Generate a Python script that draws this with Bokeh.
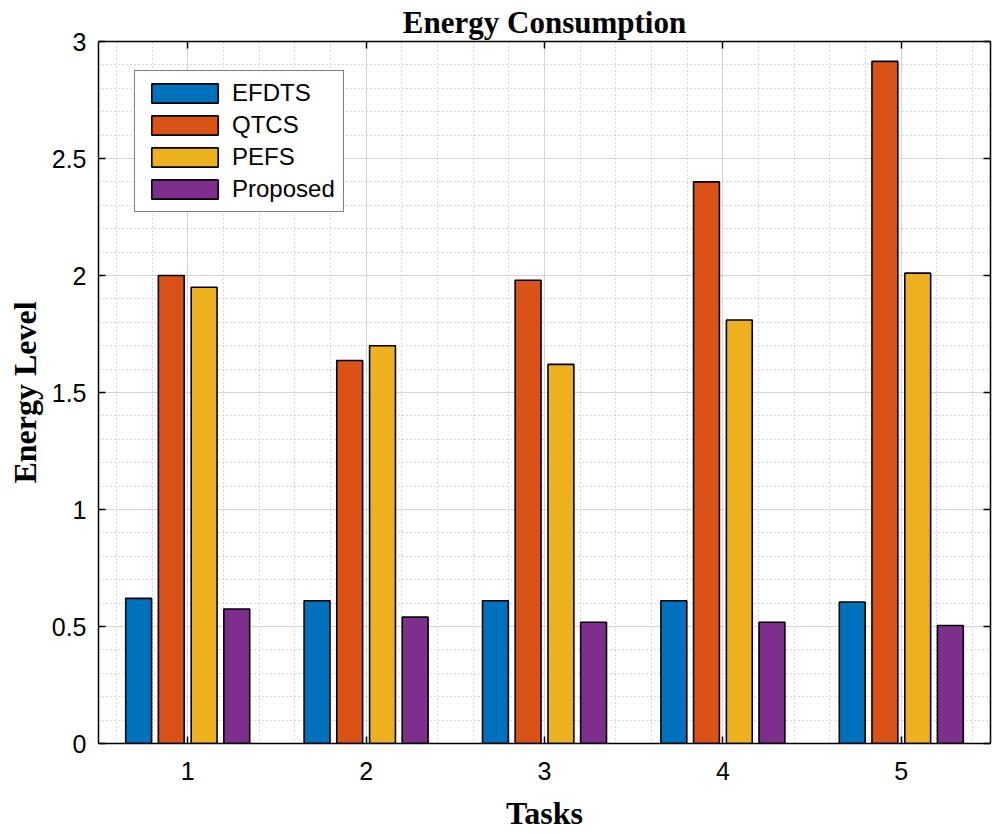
from bokeh.plotting import figure
from bokeh.models import (Range1d, FixedTicker, LinearAxis, Legend, LegendItem, ColumnDataSource)
from bokeh.transform import dodge
from bokeh.embed import file_html
from bokeh.resources import INLINE

# ---- data ----
tasks = [1, 2, 3, 4, 5]
efdts = [0.62, 0.61, 0.61, 0.61, 0.605]
qtcs = [2.00, 1.637, 1.98, 2.40, 2.915]
pefs = [1.95, 1.70, 1.62, 1.81, 2.01]
proposed = [0.575, 0.54, 0.518, 0.518, 0.504]
series_names = ["EFDTS", "QTCS", "PEFS", "Proposed"]
x_ticks = [1, 2, 3, 4, 5]
y_ticks = [0, 0.5, 1, 1.5, 2, 2.5, 3]

colors = ["#0072BD", "#D95319", "#EDB120", "#7E2F8E"]
offsets = [-0.275, -0.092, 0.092, 0.275]
bar_w = 0.145

src = ColumnDataSource(dict(task=tasks, EFDTS=efdts, QTCS=qtcs, PEFS=pefs, Proposed=proposed))

p = figure(frame_width=892, frame_height=702, output_backend="svg", toolbar_location=None,
           x_range=Range1d(0.5, 5.5), y_range=Range1d(0, 3),
           min_border_left=98, min_border_right=4, min_border_top=30, min_border_bottom=80,
           x_axis_label="Tasks", y_axis_label="Energy Level")
p.outline_line_color = None
p.background_fill_color = "white"
p.border_fill_color = "white"

p.title.text = "Energy Consumption"
p.title.align = "center"
p.title.text_font = "Liberation Serif"
p.title.text_font_style = "bold"
p.title.text_font_size = "31px"
p.title.text_color = "black"
p.title.standoff = 4

xminor = [round(0.5 + 0.1 * i, 2) for i in range(51)]
xminor = [v for v in xminor if abs(round(v * 5) - v * 5) < 1e-6 and abs(v - round(v)) > 1e-6]
yminor = [round(0.1 * i, 2) for i in range(31)]
yminor = [v for v in yminor if abs(v * 2 - round(v * 2)) > 1e-6]
xt = FixedTicker(ticks=x_ticks, minor_ticks=xminor)
yt = FixedTicker(ticks=y_ticks, minor_ticks=yminor)

# grids
for g, t in ((p.xgrid[0], xt), (p.ygrid[0], yt)):
    g.ticker = t
    g.grid_line_color = "#d4d4d4"
    g.grid_line_width = 1
    g.minor_grid_line_color = "#b0b0b0"
    g.minor_grid_line_dash = "1 3"
    g.minor_grid_line_width = 1

def style_axis(ax, ticker, labels=True):
    ax.ticker = ticker
    ax.axis_line_color = "black"
    ax.axis_line_width = 1.5
    ax.major_tick_in = 7
    ax.major_tick_out = 0
    ax.major_tick_line_width = 1.5
    ax.minor_tick_in = 0
    ax.minor_tick_out = 0
    ax.major_label_text_font = "Liberation Sans"
    if labels:
        ax.major_label_text_font_size = "25px"
        ax.major_label_text_color = "black"
    else:
        ax.major_label_text_font_size = "0px"
        ax.major_label_text_color = None
        ax.major_label_standoff = 0

style_axis(p.xaxis[0], xt)
style_axis(p.yaxis[0], yt)
p.xaxis[0].major_label_standoff = 18
p.yaxis[0].major_label_standoff = 12
for ax in (p.xaxis[0], p.yaxis[0]):
    ax.axis_label_text_font = "Liberation Serif"
    ax.axis_label_text_font_style = "bold"
    ax.axis_label_text_font_size = "32px"
    ax.axis_label_text_color = "black"
p.xaxis[0].axis_label_standoff = 12
p.yaxis[0].axis_label_standoff = 6

top_ax = LinearAxis()
style_axis(top_ax, xt, labels=False)
right_ax = LinearAxis()
style_axis(right_ax, yt, labels=False)
p.add_layout(top_ax, "above")
p.add_layout(right_ax, "right")

renderers = []
for name, col, off in zip(series_names, colors, offsets):
    r = p.vbar(x=dodge("task", off, range=p.x_range), top=name, width=bar_w, source=src,
               fill_color=col, line_color="black", line_width=1.6)
    renderers.append(r)

legend = Legend(items=[LegendItem(label=n, renderers=[r]) for n, r in zip(series_names, renderers)],
                location=(36, 531))
legend.label_text_font = "Liberation Sans"
legend.label_text_font_size = "24px"
legend.label_text_color = "black"
legend.glyph_width = 83
legend.glyph_height = 24
legend.label_height = 24
legend.spacing = 4
legend.padding = 8
legend.margin = 0
legend.label_standoff = 6
legend.border_line_color = "black"
legend.border_line_width = 1.5
legend.background_fill_alpha = 1
p.add_layout(legend, "center")

open("out.html", "w").write(file_html(p, INLINE))
